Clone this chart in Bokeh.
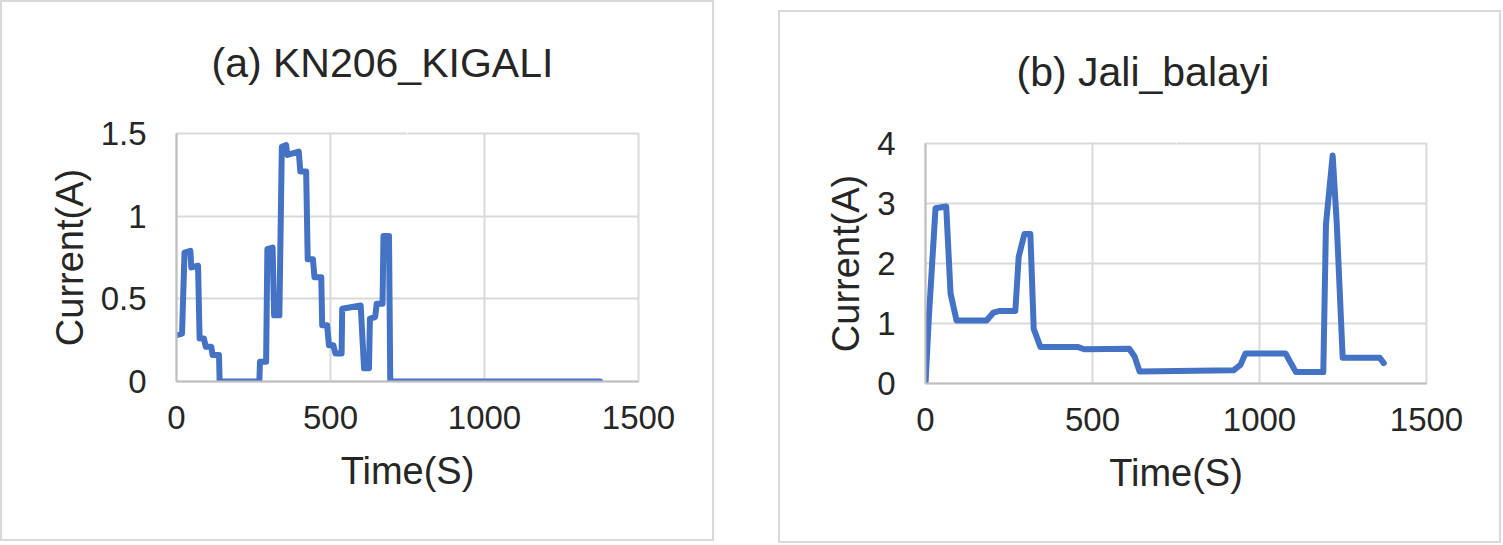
from bokeh.plotting import figure
from bokeh.layouts import row
from bokeh.models import Range1d, FixedTicker, NumeralTickFormatter, LinearAxis
from bokeh.embed import file_html
from bokeh.resources import INLINE

# Panel (a) KN206_KIGALI
time_a = [0, 18, 26, 45, 48, 70, 75, 89, 95, 113, 117, 138, 140, 269, 271, 291,
          295, 312, 317, 334, 342, 356, 360, 397, 402, 421, 426, 443, 448, 470,
          473, 489, 495, 509, 516, 536, 538, 598, 609, 625, 628, 645, 650, 669,
          672, 690, 694, 1375]
current_a = [0.28, 0.29, 0.78, 0.79, 0.69, 0.70, 0.26, 0.26, 0.21, 0.21, 0.16, 0.16,
             0.0, 0.0, 0.12, 0.12, 0.80, 0.81, 0.40, 0.40, 1.42, 1.43, 1.37, 1.39,
             1.27, 1.27, 0.74, 0.74, 0.63, 0.63, 0.34, 0.34, 0.22, 0.22, 0.17, 0.17,
             0.44, 0.46, 0.08, 0.08, 0.38, 0.39, 0.47, 0.47, 0.88, 0.88, 0.0, 0.0]

# Panel (b) Jali_balayi
time_b = [0, 10, 30, 62, 75, 93, 183, 203, 223, 269, 279, 296, 314, 324, 344, 455,
          475, 610, 626, 641, 922, 943, 958, 1078, 1109, 1191, 1199, 1219, 1231,
          1249, 1360, 1372]
current_b = [0, 1.1, 2.92, 2.95, 1.5, 1.05, 1.05, 1.18, 1.21, 1.21, 2.11, 2.49, 2.49,
             0.91, 0.61, 0.61, 0.57, 0.58, 0.45, 0.20, 0.22, 0.31, 0.50, 0.50, 0.19,
             0.19, 2.65, 3.80, 2.70, 0.43, 0.43, 0.34]

x_ticks = [0, 500, 1000, 1500]
y_ticks_a = [0, 0.5, 1, 1.5]
y_ticks_b = [0, 1, 2, 3, 4]

titles = ["(a) KN206_KIGALI", "(b) Jali_balayi"]
x_label = "Time(S)"
y_label = "Current(A)"

FONT = "Liberation Sans"
TXT = "#262626"
GRID = "#d9d9d9"
LINE = "#4472C4"


def make_panel(x, y, ymax, yticks, w, h, borders, title, toff, gap):
    left, right, top, bottom = borders
    p = figure(width=w, height=h, x_range=Range1d(0, 1500), y_range=Range1d(0, ymax),
               output_backend="svg", toolbar_location=None,
               min_border_left=left, min_border_right=right,
               min_border_top=top, min_border_bottom=bottom)
    p.styles = {"border": "2px solid #d9d9d9", "box-sizing": "border-box"}
    p.line(x, y, line_color=LINE, line_width=6, line_join="round", line_cap="round")
    p.xaxis.ticker = FixedTicker(ticks=x_ticks)
    p.yaxis.ticker = FixedTicker(ticks=yticks)
    p.xaxis.formatter = NumeralTickFormatter(format="0")
    p.yaxis.formatter = NumeralTickFormatter(format="0.[0]")
    for ax in (p.xaxis[0], p.yaxis[0]):
        ax.major_tick_line_color = None
        ax.minor_tick_line_color = None
        ax.axis_line_color = "#bfbfbf"
        ax.axis_line_width = 2
        ax.major_label_text_font = FONT
        ax.major_label_text_font_size = "33px"
        ax.major_label_text_color = TXT
        ax.axis_label_text_font = FONT
        ax.axis_label_text_font_size = "38px"
        ax.axis_label_text_font_style = "normal"
        ax.axis_label_text_color = TXT
    p.xaxis.major_label_standoff = 18
    p.yaxis.major_label_standoff = 24
    p.xaxis.axis_label = x_label
    p.yaxis.axis_label = y_label
    p.xaxis.axis_label_standoff = 18
    p.yaxis.axis_label_standoff = 7
    p.xgrid.ticker = FixedTicker(ticks=x_ticks)
    p.ygrid.ticker = FixedTicker(ticks=yticks)
    p.grid.grid_line_color = GRID
    p.grid.grid_line_width = 2
    p.outline_line_color = GRID
    p.outline_line_width = 2
    # blank spacer axis between frame and title (white tick on white, empty label)
    spacer = LinearAxis(ticker=FixedTicker(ticks=[750]), axis_line_color=None,
                        major_tick_line_color="#ffffff", major_tick_line_width=1,
                        minor_tick_line_color=None,
                        major_tick_out=gap, major_tick_in=0, minor_tick_out=0,
                        major_label_standoff=0, major_label_overrides={750: ""},
                        major_label_text_font_size="1px")
    p.add_layout(spacer, "above")
    p.title.text = title
    p.title.align = "left"
    p.title.offset = toff
    p.title.text_font = FONT
    p.title.text_font_size = "41px"
    p.title.text_font_style = "normal"
    p.title.text_color = TXT
    p.title.standoff = 10
    return p


pa = make_panel(time_a, current_a, 1.5, y_ticks_a, 714, 541, (174, 78, 131, 156),
                titles[0], 35, 43)
pb = make_panel(time_b, current_b, 4, y_ticks_b, 723, 533, (145, 77, 122, 162),
                titles[1], 91, 44)
pb.margin = (10, 0, 0, 0)

layout = row(pa, pb, spacing=64)
open("out.html", "w").write(file_html(layout, INLINE))
